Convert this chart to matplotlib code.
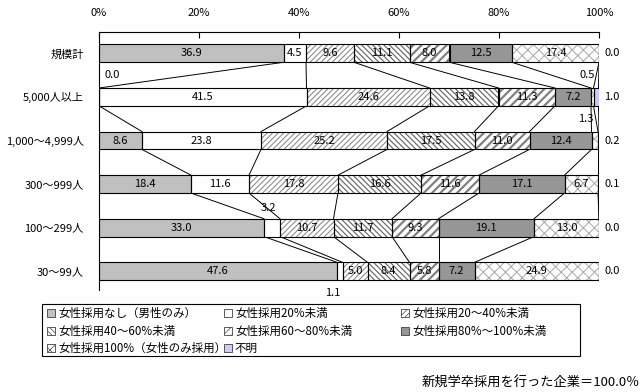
import matplotlib
matplotlib.use("Agg")
import matplotlib.pyplot as plt
import numpy as np
from matplotlib.patches import Patch, Rectangle

plt.rcParams['font.family'] = ['Noto Sans CJK JP', 'DejaVu Sans']

# データ
categories = ["規模計", "5,000人以上", "1,000～4,999人", "300～999人", "100～299人", "30～99人"]
series_names = ["女性採用なし（男性のみ）", "女性採用20%未満", "女性採用20～40%未満",
                "女性採用40～60%未満", "女性採用60～80%未満", "女性採用80%～100%未満",
                "女性採用100%（女性のみ採用）", "不明"]
none_f = [36.9, 0.0, 8.6, 18.4, 33.0, 47.6]
lt20 = [4.5, 41.5, 23.8, 11.6, 3.2, 1.1]
p20_40 = [9.6, 24.6, 25.2, 17.8, 10.7, 5.0]
p40_60 = [11.1, 13.8, 17.5, 16.6, 11.7, 8.4]
p60_80 = [8.0, 11.3, 11.0, 11.6, 9.3, 5.8]
p80_100 = [12.5, 7.2, 12.4, 17.1, 19.1, 7.2]
p100 = [17.4, 0.5, 1.3, 6.7, 13.0, 24.9]
unknown = [0.0, 1.0, 0.2, 0.1, 0.0, 0.0]
xticks = [0, 20, 40, 60, 80, 100]

data = np.array([none_f, lt20, p20_40, p40_60, p60_80, p80_100, p100, unknown])
# 塗り / ハッチ
faces = ['#c0c0c0', 'white', 'white', 'white', 'white', '#969696', 'white', '#ccccff']
hatches = [None, None, '//////', '\\\\\\\\\\\\', '////', None, 'xxx', None]
hatch_cols = ['black', 'black', '#808080', '#606060', '#808080', 'black', '#a8a8a8', 'black']
hatch_lw = [1, 1, 0.7, 0.8, 1.6, 1, 0.7, 1]

fig = plt.figure(figsize=(6.44, 3.92), dpi=100)
ax = fig.add_axes([99/644, 1-290/392, 500/644, 258/392])

y = np.arange(len(categories))
h = 0.41
left = np.zeros(len(categories))
for k in range(len(data)):
    vals = data[k]
    with plt.rc_context({'hatch.linewidth': hatch_lw[k]}):
        ax.barh(y, vals, left=left, height=h, color=faces[k], hatch=hatches[k],
                edgecolor=hatch_cols[k], linewidth=0, zorder=2)
    ax.barh(y, vals, left=left, height=h, fill=False, edgecolor='black',
            linewidth=0.8, zorder=3)
    left = left + vals
    # 区分線
    for i in range(len(categories)-1):
        ax.plot([left[i], left[i+1]], [y[i]+h/2, y[i+1]-h/2], color='black',
                lw=0.7, zorder=1)

# ラベル
cum = np.vstack([np.zeros(len(categories)), np.cumsum(data, axis=0)])
moved = {(0, 1): (1.0, 0.5, 'left'), (6, 1): (97.6, 0.5, 'center'),
         (6, 2): (97.4, 1.5, 'center'), (1, 4): (33.8, 3.55, 'center'),
         (1, 5): (46.8, 5.5, 'center')}
for k in range(len(data)):
    for i in range(len(categories)):
        txt = f"{data[k, i]:.1f}"
        if (k, i) in moved:
            xx, yy, ha = moved[(k, i)]
            ax.text(xx, yy, txt, ha=ha, va='center', fontsize=8, zorder=5, clip_on=False)
        elif k == 7:
            ax.text(102.6, y[i], txt, ha='center', va='center', fontsize=8, clip_on=False)
        else:
            ax.text((cum[k, i]+cum[k+1, i])/2, y[i], txt, ha='center', va='center',
                    fontsize=8, zorder=5)

ax.set_xlim(0, 100)
ax.set_ylim(5.43, -0.49)
ax.set_yticks(y)
ax.set_yticklabels(categories, fontsize=8)
ax.tick_params(axis='y', length=0, pad=11)
ax.xaxis.tick_top()
ax.set_xticks(xticks)
ax.set_xticklabels([f"{t}%" for t in xticks], fontsize=8)
ax.tick_params(axis='x', direction='in', length=4, pad=10)
ax.spines['right'].set_visible(False)
ax.spines['bottom'].set_visible(False)
ax.spines['left'].set_linewidth(0.8)
ax.spines['top'].set_linewidth(0.8)

# 凡例：列ごとに配置
columns = [[0, 3, 6], [1, 4, 7], [2, 5]]
col_x = [47, 224, 401]
with plt.rc_context({'hatch.linewidth': 0.5}):
    handles = [Patch(facecolor=faces[k], hatch=hatches[k], edgecolor='#404040', linewidth=0.6)
               for k in range(len(series_names))]
    for cx, idx in zip(col_x, columns):
        fig.legend([handles[k] for k in idx], [series_names[k] for k in idx],
                   loc='upper left', bbox_to_anchor=(cx/644, 1-307/392),
                   fontsize=8.3, frameon=False, handlelength=0.7, handleheight=0.7,
                   handletextpad=0.25, borderpad=0, labelspacing=0.4, borderaxespad=0)
fig.add_artist(Rectangle((42/644, 1-356/392), 538/644, 52/392, transform=fig.transFigure,
                         fill=False, edgecolor='black', linewidth=0.8))

fig.text(640/644, 1-383/392, "新規学卒採用を行った企業＝100.0％", ha='right', va='center',
         fontsize=9.5)

fig.savefig("out.png", dpi=100)
